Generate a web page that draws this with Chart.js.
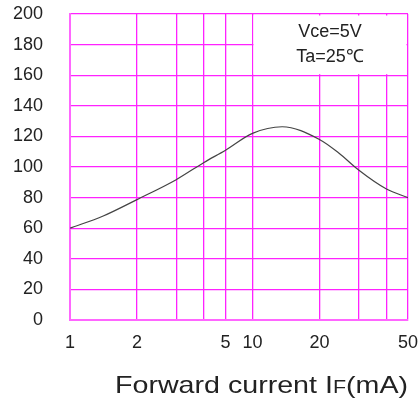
<!DOCTYPE html>
<html><head><meta charset="utf-8">
<script src="https://cdn.jsdelivr.net/npm/chart.js@4"></script>
<style>html,body{margin:0;padding:0;background:#fff}#wrap{width:419px;height:409px}</style>
</head><body><div id="wrap"><canvas id="c"></canvas></div>
<script>
const currents = [1, 1.41, 2, 3, 4, 5, 10, 13.6, 20, 24.5, 30, 40, 50];
const hfe      = [60, 68, 78.7, 91.7, 103, 111, 122, 126.3, 118, 109, 98, 85.6, 80];
const gridCurrents  = [1, 2, 3, 4, 5, 10, 20, 30, 40, 50];
const labelCurrents = [1, 2, 5, 10, 20, 50];
const yTicks = [0, 20, 40, 60, 80, 100, 120, 140, 160, 180, 200];
const noteLines = ['Vce=5V', 'Ta=25\u2103'];

const GAP = 0.121;
function u(x){ return x <= 5 ? Math.log10(x) : Math.log10(5) + GAP + Math.log10(x/10); }
const UMAX = u(50);
const MAG = '#ff22ff';
const FONT = '"Liberation Sans", Arial, sans-serif';

const notePlugin = {
  id:'note',
  beforeDatasetsDraw(chart){
    const {ctx, scales:{x, y}} = chart;
    const l = x.getPixelForValue(u(10)), r = x.getPixelForValue(u(50));
    const t = y.getPixelForValue(200), b = y.getPixelForValue(160);
    ctx.save();
    ctx.fillStyle = '#fff';
    ctx.fillRect(l+1, t+1.5, r-l-2.5, b-t-2.5);
    ctx.fillStyle = '#222';
    ctx.font = '18px ' + FONT;
    ctx.textAlign = 'center'; ctx.textBaseline = 'middle';
    ctx.fillText(noteLines[0], 330, 32);
    ctx.fillText(noteLines[1], 330, 57);
    ctx.restore();
  },
  afterDraw(chart){
    const {ctx} = chart;
    ctx.save();
    ctx.fillStyle = '#222';
    ctx.textBaseline = 'alphabetic'; ctx.textAlign = 'left';
    const parts = [['Forward current I',24],['F',18],['(mA)',24]];
    let w = 0;
    for (const [s,sz] of parts){ ctx.font = sz + 'px ' + FONT; w += ctx.measureText(s).width; }
    const target = 293, x0 = 115, base = 393;
    ctx.translate(x0, base);
    ctx.scale(target / w, 1);
    let xx = 0;
    for (const [s,sz] of parts){
      ctx.font = sz + 'px ' + FONT;
      ctx.fillText(s, xx, 0);
      xx += ctx.measureText(s).width;
    }
    ctx.restore();
  }
};

new Chart(document.getElementById('c'), {
  type:'scatter',
  data:{datasets:[{
    data: currents.map((c,i)=>({x:u(c), y:hfe[i]})),
    showLine:true, borderColor:'#444', borderWidth:1.2, pointRadius:0,
    cubicInterpolationMode:'monotone'
  }]},
  options:{
    responsive:true, maintainAspectRatio:false, animation:false,
    layout:{padding:{left:0, right:11, top:14, bottom:0}},
    plugins:{legend:{display:false}, tooltip:{enabled:false}},
    scales:{
      x:{type:'linear', min:0, max:UMAX,
        afterBuildTicks(s){ s.ticks = gridCurrents.map(c=>({value:u(c)})); },
        afterFit(s){ s.height = 89; s.paddingLeft = 0; s.paddingRight = 0; },
        ticks:{ color:'#222', font:{family:FONT, size:18}, padding:12, maxRotation:0, autoSkip:false,
          callback(v){ const c = gridCurrents.find(g=>Math.abs(u(g)-v)<1e-6); return labelCurrents.includes(c) ? String(c) : ''; } },
        grid:{color:MAG, lineWidth:1.3, drawTicks:false},
        border:{color:'#ff66ff', width:2}
      },
      y:{type:'linear', min:0, max:200,
        afterBuildTicks(s){ s.ticks = yTicks.map(v=>({value:v})); },
        afterFit(s){ s.width = 70; s.paddingTop = 0; s.paddingBottom = 0; },
        ticks:{ color:'#222', font:{family:FONT, size:18}, padding:27 },
        grid:{color:MAG, lineWidth:1.3, drawTicks:false},
        border:{color:'#ff66ff', width:2}
      }
    }
  },
  plugins:[notePlugin]
});
</script></body></html>
